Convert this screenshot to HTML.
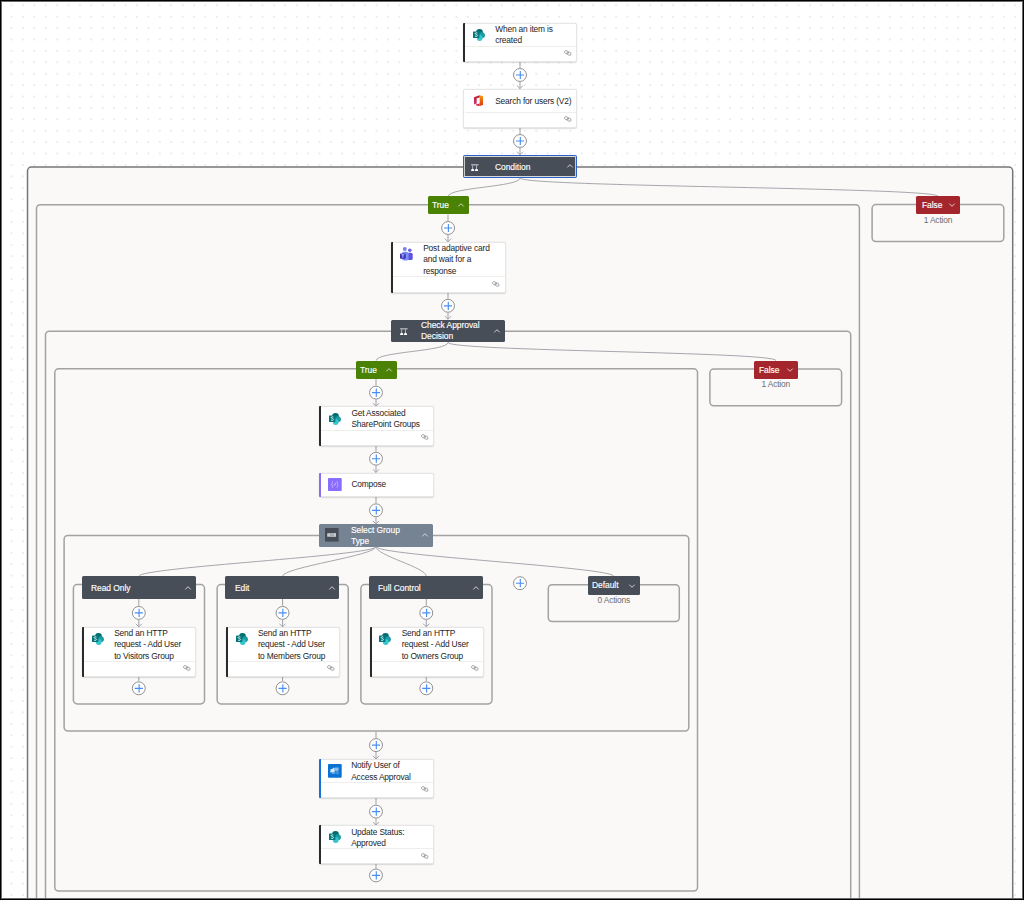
<!DOCTYPE html><html><head><meta charset="utf-8"><style>
*{box-sizing:border-box;margin:0;padding:0}
html,body{width:1024px;height:900px;overflow:hidden;background:#fff}
body{position:relative;font-family:"Liberation Sans", sans-serif;color:#242424}
#bg{position:absolute;left:0;top:0;width:1024px;height:900px;
background-image:radial-gradient(circle at center,#8c8c8c 0,#b0b0b0 0.35px,rgba(255,255,255,0) 0.78px);
background-size:11.42px 11.42px;background-position:-5.6px -0.45px}
.ct{position:absolute;background:#faf9f8;border:1.3px solid #8c8c8c;border-radius:3.5px}
.card{position:absolute;background:#fff;border:1px solid #e6e6e6;border-radius:2px;box-shadow:0 0.6px 1.4px rgba(0,0,0,0.14)}
.bar{position:absolute;left:-1px;top:-1px;bottom:-1px;width:2.2px;border-radius:1px 0 0 1px}
.dv{position:absolute;left:1.2px;right:0;height:1px;background:#efeeec}
.t{position:absolute;font-size:8.4px;letter-spacing:-0.16px;line-height:11.4px;white-space:nowrap;color:#242424}
.hd{position:absolute;border-radius:1.5px;color:#fff}
.ht{position:absolute;font-size:9.2px;font-weight:400;letter-spacing:-0.05px;line-height:11px;white-space:nowrap;color:#fff;-webkit-text-stroke:0.15px #fff;transform:scaleX(0.92);transform-origin:0 0}
.plus{position:absolute;width:14px;height:14px;border-radius:50%;border:1px solid #8e8e8e;background:#fff}
.plus:before{content:'';position:absolute;left:2px;top:5.4px;width:8px;height:1.2px;background:#62a0f4}
.plus:after{content:'';position:absolute;left:5.4px;top:1.9px;width:1.2px;height:8.2px;background:#62a0f4}
.cnt{position:absolute;font-size:8.4px;color:#6c6c6c;letter-spacing:-0.16px;line-height:11.2px;white-space:nowrap;text-align:center}
svg{position:absolute;left:0;top:0;overflow:visible}
#frame{position:absolute;left:0;top:0;width:1024px;height:900px;border:1px solid #000;box-shadow:inset 0 0 0 1px #6a6a6a}
</style></head><body><div id="bg"></div>
<svg width="1024" height="900" viewBox="0 0 1024 900"><rect x="27.5" y="167.1" width="985.20" height="792.90" rx="3.8" fill="#faf9f8" stroke="#777777" stroke-width="1.5"/><rect x="36.5" y="204.7" width="822.90" height="755.30" rx="3.8" fill="#faf9f8" stroke="#a2a2a2" stroke-width="1.5"/><rect x="872.1" y="204.6" width="131.70" height="36.90" rx="3.8" fill="#faf9f8" stroke="#a2a2a2" stroke-width="1.5"/><rect x="45.5" y="331.2" width="805.20" height="628.80" rx="3.8" fill="#faf9f8" stroke="#a2a2a2" stroke-width="1.5"/><rect x="54.8" y="368.8" width="642.70" height="522.20" rx="3.8" fill="#faf9f8" stroke="#a2a2a2" stroke-width="1.5"/><rect x="709.9" y="369.1" width="131.70" height="36.70" rx="3.8" fill="#faf9f8" stroke="#a2a2a2" stroke-width="1.5"/><rect x="64.1" y="535.5" width="624.70" height="195.50" rx="3.8" fill="#faf9f8" stroke="#a2a2a2" stroke-width="1.5"/><rect x="73.4" y="584.6" width="131.10" height="119.30" rx="3.8" fill="#faf9f8" stroke="#a2a2a2" stroke-width="1.5"/><rect x="217.15" y="584.6" width="131.10" height="119.30" rx="3.8" fill="#faf9f8" stroke="#a2a2a2" stroke-width="1.5"/><rect x="360.9" y="584.6" width="131.10" height="119.30" rx="3.8" fill="#faf9f8" stroke="#a2a2a2" stroke-width="1.5"/><rect x="548.3" y="584.7" width="131.00" height="36.90" rx="3.8" fill="#faf9f8" stroke="#a2a2a2" stroke-width="1.5"/></svg>
<svg width="1024" height="900" viewBox="0 0 1024 900"><line x1="520" y1="61" x2="520" y2="68" stroke="#a6a6ad" stroke-width="1.1"/><line x1="520" y1="82" x2="520" y2="88.8" stroke="#a6a6ad" stroke-width="1.1"/><path d="M516.9,85.5 L520,88.6 L523.1,85.5" fill="none" stroke="#a6a6ad" stroke-width="1"/><line x1="520" y1="127.8" x2="520" y2="134" stroke="#a6a6ad" stroke-width="1.1"/><line x1="520" y1="148" x2="520" y2="155" stroke="#a6a6ad" stroke-width="1.1"/><path d="M516.9,151.7 L520,154.8 L523.1,151.7" fill="none" stroke="#a6a6ad" stroke-width="1"/><line x1="448" y1="214.5" x2="448" y2="221" stroke="#a6a6ad" stroke-width="1.1"/><line x1="448" y1="235" x2="448" y2="242" stroke="#a6a6ad" stroke-width="1.1"/><path d="M444.9,238.7 L448,241.8 L451.1,238.7" fill="none" stroke="#a6a6ad" stroke-width="1"/><line x1="448" y1="292" x2="448" y2="298.8" stroke="#a6a6ad" stroke-width="1.1"/><line x1="448" y1="312.8" x2="448" y2="319.4" stroke="#a6a6ad" stroke-width="1.1"/><path d="M444.9,316.09999999999997 L448,319.2 L451.1,316.09999999999997" fill="none" stroke="#a6a6ad" stroke-width="1"/><line x1="376" y1="378.7" x2="376" y2="385.4" stroke="#a6a6ad" stroke-width="1.1"/><line x1="376" y1="399.4" x2="376" y2="406.4" stroke="#a6a6ad" stroke-width="1.1"/><path d="M372.9,403.09999999999997 L376,406.2 L379.1,403.09999999999997" fill="none" stroke="#a6a6ad" stroke-width="1"/><line x1="376" y1="445.5" x2="376" y2="451.6" stroke="#a6a6ad" stroke-width="1.1"/><line x1="376" y1="465.6" x2="376" y2="472.6" stroke="#a6a6ad" stroke-width="1.1"/><path d="M372.9,469.3 L376,472.40000000000003 L379.1,469.3" fill="none" stroke="#a6a6ad" stroke-width="1"/><line x1="376" y1="496.5" x2="376" y2="503.2" stroke="#a6a6ad" stroke-width="1.1"/><line x1="376" y1="517.2" x2="376" y2="524.2" stroke="#a6a6ad" stroke-width="1.1"/><path d="M372.9,520.9000000000001 L376,524.0 L379.1,520.9000000000001" fill="none" stroke="#a6a6ad" stroke-width="1"/><line x1="138.8" y1="599" x2="138.8" y2="605.8" stroke="#a6a6ad" stroke-width="1.1"/><line x1="138.8" y1="619.8" x2="138.8" y2="627" stroke="#a6a6ad" stroke-width="1.1"/><path d="M135.70000000000002,623.7 L138.8,626.8 L141.9,623.7" fill="none" stroke="#a6a6ad" stroke-width="1"/><line x1="138.8" y1="676.5" x2="138.8" y2="681" stroke="#a6a6ad" stroke-width="1.1"/><line x1="282.55" y1="599" x2="282.55" y2="605.8" stroke="#a6a6ad" stroke-width="1.1"/><line x1="282.55" y1="619.8" x2="282.55" y2="627" stroke="#a6a6ad" stroke-width="1.1"/><path d="M279.45,623.7 L282.55,626.8 L285.65000000000003,623.7" fill="none" stroke="#a6a6ad" stroke-width="1"/><line x1="282.55" y1="676.5" x2="282.55" y2="681" stroke="#a6a6ad" stroke-width="1.1"/><line x1="426.3" y1="599" x2="426.3" y2="605.8" stroke="#a6a6ad" stroke-width="1.1"/><line x1="426.3" y1="619.8" x2="426.3" y2="627" stroke="#a6a6ad" stroke-width="1.1"/><path d="M423.2,623.7 L426.3,626.8 L429.40000000000003,623.7" fill="none" stroke="#a6a6ad" stroke-width="1"/><line x1="426.3" y1="676.5" x2="426.3" y2="681" stroke="#a6a6ad" stroke-width="1.1"/><line x1="376" y1="731.4" x2="376" y2="738" stroke="#a6a6ad" stroke-width="1.1"/><line x1="376" y1="752" x2="376" y2="759.2" stroke="#a6a6ad" stroke-width="1.1"/><path d="M372.9,755.9000000000001 L376,759.0 L379.1,755.9000000000001" fill="none" stroke="#a6a6ad" stroke-width="1"/><line x1="376" y1="797.8" x2="376" y2="804.5" stroke="#a6a6ad" stroke-width="1.1"/><line x1="376" y1="818.5" x2="376" y2="825.4" stroke="#a6a6ad" stroke-width="1.1"/><path d="M372.9,822.1 L376,825.1999999999999 L379.1,822.1" fill="none" stroke="#a6a6ad" stroke-width="1"/><line x1="376" y1="863.8" x2="376" y2="868.3" stroke="#a6a6ad" stroke-width="1.1"/><path d="M520,178 C520,187 448.3,187.3 448.3,196.3" fill="none" stroke="#a6a6ad" stroke-width="1"/><path d="M520,178 C520,187 938,187.3 938,196.3" fill="none" stroke="#a6a6ad" stroke-width="1"/><path d="M448,342.4 C448,351.4 376.2,351.6 376.2,360.6" fill="none" stroke="#a6a6ad" stroke-width="1"/><path d="M448,342.4 C448,351.4 776,351.6 776,360.6" fill="none" stroke="#a6a6ad" stroke-width="1"/><path d="M376,546.6 C376,555.6 138.8,567.3 138.8,576.3" fill="none" stroke="#a6a6ad" stroke-width="1"/><path d="M376,546.6 C376,555.6 282.55,567.3 282.55,576.3" fill="none" stroke="#a6a6ad" stroke-width="1"/><path d="M376,546.6 C376,555.6 426.3,567.3 426.3,576.3" fill="none" stroke="#a6a6ad" stroke-width="1"/><path d="M376,546.6 C376,555.6 613.8,567.3 613.8,576.3" fill="none" stroke="#a6a6ad" stroke-width="1"/></svg>
<svg width="1024" height="900" viewBox="0 0 1024 900"><circle cx="520" cy="75" r="6.45" fill="#fff" stroke="#909090" stroke-width="1"/><path d="M515.9,75 H524.1 M520.3,70.9 V79.1" stroke="#4a8ef4" stroke-width="1.15"/><circle cx="520" cy="141" r="6.45" fill="#fff" stroke="#909090" stroke-width="1"/><path d="M515.9,141 H524.1 M520.3,136.9 V145.1" stroke="#4a8ef4" stroke-width="1.15"/><circle cx="448.1" cy="228" r="6.45" fill="#fff" stroke="#909090" stroke-width="1"/><path d="M444.0,228 H452.20000000000005 M448.40000000000003,223.9 V232.1" stroke="#4a8ef4" stroke-width="1.15"/><circle cx="448" cy="305.8" r="6.45" fill="#fff" stroke="#909090" stroke-width="1"/><path d="M443.9,305.8 H452.1 M448.3,301.7 V309.90000000000003" stroke="#4a8ef4" stroke-width="1.15"/><circle cx="376" cy="392.6" r="6.45" fill="#fff" stroke="#909090" stroke-width="1"/><path d="M371.9,392.6 H380.1 M376.3,388.5 V396.70000000000005" stroke="#4a8ef4" stroke-width="1.15"/><circle cx="376" cy="458.7" r="6.45" fill="#fff" stroke="#909090" stroke-width="1"/><path d="M371.9,458.7 H380.1 M376.3,454.59999999999997 V462.8" stroke="#4a8ef4" stroke-width="1.15"/><circle cx="376" cy="510.3" r="6.45" fill="#fff" stroke="#909090" stroke-width="1"/><path d="M371.9,510.3 H380.1 M376.3,506.2 V514.4" stroke="#4a8ef4" stroke-width="1.15"/><circle cx="376" cy="745.1" r="6.45" fill="#fff" stroke="#909090" stroke-width="1"/><path d="M371.9,745.1 H380.1 M376.3,741.0 V749.2" stroke="#4a8ef4" stroke-width="1.15"/><circle cx="376" cy="811.6" r="6.45" fill="#fff" stroke="#909090" stroke-width="1"/><path d="M371.9,811.6 H380.1 M376.3,807.5 V815.7" stroke="#4a8ef4" stroke-width="1.15"/><circle cx="376" cy="875.4" r="6.45" fill="#fff" stroke="#909090" stroke-width="1"/><path d="M371.9,875.4 H380.1 M376.3,871.3 V879.5" stroke="#4a8ef4" stroke-width="1.15"/><circle cx="520" cy="583.2" r="6.45" fill="#fff" stroke="#909090" stroke-width="1"/><path d="M515.9,583.2 H524.1 M520.3,579.1 V587.3000000000001" stroke="#4a8ef4" stroke-width="1.15"/><circle cx="138.8" cy="612.9" r="6.45" fill="#fff" stroke="#909090" stroke-width="1"/><path d="M134.70000000000002,612.9 H142.9 M139.10000000000002,608.8 V617.0" stroke="#4a8ef4" stroke-width="1.15"/><circle cx="138.8" cy="688.3" r="6.45" fill="#fff" stroke="#909090" stroke-width="1"/><path d="M134.70000000000002,688.3 H142.9 M139.10000000000002,684.1999999999999 V692.4" stroke="#4a8ef4" stroke-width="1.15"/><circle cx="282.55" cy="612.9" r="6.45" fill="#fff" stroke="#909090" stroke-width="1"/><path d="M278.45,612.9 H286.65000000000003 M282.85,608.8 V617.0" stroke="#4a8ef4" stroke-width="1.15"/><circle cx="282.55" cy="688.3" r="6.45" fill="#fff" stroke="#909090" stroke-width="1"/><path d="M278.45,688.3 H286.65000000000003 M282.85,684.1999999999999 V692.4" stroke="#4a8ef4" stroke-width="1.15"/><circle cx="426.3" cy="612.9" r="6.45" fill="#fff" stroke="#909090" stroke-width="1"/><path d="M422.2,612.9 H430.40000000000003 M426.6,608.8 V617.0" stroke="#4a8ef4" stroke-width="1.15"/><circle cx="426.3" cy="688.3" r="6.45" fill="#fff" stroke="#909090" stroke-width="1"/><path d="M422.2,688.3 H430.40000000000003 M426.6,684.1999999999999 V692.4" stroke="#4a8ef4" stroke-width="1.15"/></svg>
<div class="card" style="left:463px;top:23.2px;width:114.1px;height:38.4px"><div class="bar" style="background:#2a2a2a"></div><svg style="left:9px;top:4.6px" width="12" height="12" viewBox="0 0 12 12"><circle cx="6.5" cy="3.5" r="3.4" fill="#036c70"/><circle cx="8.9" cy="6.3" r="3.0" fill="#1a9ba1"/><circle cx="6.7" cy="9" r="2.9" fill="#37c6d0"/><rect x="0" y="2.6" width="6.4" height="6.4" rx="0.6" fill="#03787c"/><path d="M4.4,4.1 C3.9,3.6 2.1,3.7 2.2,4.7 C2.3,5.6 4.4,5.3 4.4,6.6 C4.4,7.6 2.5,7.6 2,7" fill="none" stroke="#ffffff" stroke-width="0.95" opacity="0.9"/></svg><div class="t" style="left:31.2px;top:-0.11px">When an item is<br>created</div><div class="dv" style="top:22.2px"></div><svg style="left:100px;top:25.7px" width="8" height="6" viewBox="0 0 8 6"><ellipse cx="2.5" cy="2.3" rx="2.1" ry="1.45" transform="rotate(28 2.5 2.3)" fill="none" stroke="#8f8f94" stroke-width="0.75"/><ellipse cx="5.1" cy="3.6" rx="2.1" ry="1.45" transform="rotate(28 5.1 3.6)" fill="none" stroke="#8f8f94" stroke-width="0.75"/></svg></div>
<div class="card" style="left:463px;top:89.2px;width:114.3px;height:39px"><svg style="left:10.1px;top:4.8px" width="9" height="11" viewBox="0 0 9 11"><defs><linearGradient id="og" x1="0" y1="0" x2="0" y2="1"><stop offset="0" stop-color="#f5a00a"/><stop offset="0.6" stop-color="#e8560f"/><stop offset="1" stop-color="#d8400c"/></linearGradient><linearGradient id="lg" x1="0" y1="0" x2="0" y2="1"><stop offset="0" stop-color="#c4171f"/><stop offset="1" stop-color="#c93a7a"/></linearGradient></defs><path d="M5.7,0.2 L9,1.2 L9,9.9 L5.7,11 Z" fill="url(#og)"/><path d="M0,2.2 L5.7,0.2 L5.7,2.6 L2.7,3.3 L2.7,8.6 L0,9.4 Z" fill="url(#lg)"/><path d="M2.1,9.3 L5.7,8.6 L5.7,11 L3.2,10.8 Q2.1,10.5 2.1,9.9 Z" fill="#e0294a"/></svg><div class="t" style="left:31.2px;top:6.09px">Search for users (V2)</div><div class="dv" style="top:22.1px"></div><svg style="left:100.2px;top:26.3px" width="8" height="6" viewBox="0 0 8 6"><ellipse cx="2.5" cy="2.3" rx="2.1" ry="1.45" transform="rotate(28 2.5 2.3)" fill="none" stroke="#8f8f94" stroke-width="0.75"/><ellipse cx="5.1" cy="3.6" rx="2.1" ry="1.45" transform="rotate(28 5.1 3.6)" fill="none" stroke="#8f8f94" stroke-width="0.75"/></svg></div>
<div class="card" style="left:391px;top:242.2px;width:114.5px;height:50.4px"><div class="bar" style="background:#2a2a2a"></div><svg style="left:8.2px;top:3.8px" width="13" height="14" viewBox="0 0 13 14"><circle cx="4.8" cy="2.1" r="2.0" fill="#7b83eb"/><circle cx="9.8" cy="3.2" r="1.8" fill="#6a63e0"/><rect x="7.4" y="5.8" width="5.3" height="7.2" rx="1.6" fill="#6152e0"/><rect x="2" y="4.8" width="6.6" height="8.8" rx="2" fill="#7a92f8"/><rect x="0" y="6.6" width="5.7" height="5.2" rx="0.7" fill="#3a33b5"/><path d="M1.4,7.8 H4.3 M2.85,7.8 V10.8" stroke="#c9c6f5" stroke-width="0.9" fill="none"/></svg><div class="t" style="left:31.2px;top:-0.41px">Post adaptive card<br>and wait for a<br>response</div><div class="dv" style="top:33.2px"></div><svg style="left:100.4px;top:37.7px" width="8" height="6" viewBox="0 0 8 6"><ellipse cx="2.5" cy="2.3" rx="2.1" ry="1.45" transform="rotate(28 2.5 2.3)" fill="none" stroke="#8f8f94" stroke-width="0.75"/><ellipse cx="5.1" cy="3.6" rx="2.1" ry="1.45" transform="rotate(28 5.1 3.6)" fill="none" stroke="#8f8f94" stroke-width="0.75"/></svg></div>
<div class="card" style="left:319.2px;top:406.4px;width:114.5px;height:39.6px"><div class="bar" style="background:#2a2a2a"></div><svg style="left:9.2px;top:5.2px" width="12" height="12" viewBox="0 0 12 12"><circle cx="6.5" cy="3.5" r="3.4" fill="#036c70"/><circle cx="8.9" cy="6.3" r="3.0" fill="#1a9ba1"/><circle cx="6.7" cy="9" r="2.9" fill="#37c6d0"/><rect x="0" y="2.6" width="6.4" height="6.4" rx="0.6" fill="#03787c"/><path d="M4.4,4.1 C3.9,3.6 2.1,3.7 2.2,4.7 C2.3,5.6 4.4,5.3 4.4,6.6 C4.4,7.6 2.5,7.6 2,7" fill="none" stroke="#ffffff" stroke-width="0.95" opacity="0.9"/></svg><div class="t" style="left:31.2px;top:0.39px">Get Associated<br>SharePoint Groups</div><div class="dv" style="top:22.3px"></div><svg style="left:100.4px;top:26.9px" width="8" height="6" viewBox="0 0 8 6"><ellipse cx="2.5" cy="2.3" rx="2.1" ry="1.45" transform="rotate(28 2.5 2.3)" fill="none" stroke="#8f8f94" stroke-width="0.75"/><ellipse cx="5.1" cy="3.6" rx="2.1" ry="1.45" transform="rotate(28 5.1 3.6)" fill="none" stroke="#8f8f94" stroke-width="0.75"/></svg></div>
<div class="card" style="left:319.2px;top:472.6px;width:114.5px;height:24.4px"><div class="bar" style="background:#8b6cf5"></div><svg style="left:8px;top:4.2px" width="14" height="13" viewBox="0 0 14 13"><rect x="0" y="0" width="13.7" height="13.1" rx="0.8" fill="#8a6cff"/><path d="M5.1,3.3 C4.1,3.3 4.3,4.3 4.3,5.2 C4.3,6 4,6.5 3.4,6.5 C4,6.5 4.3,7 4.3,7.8 C4.3,8.7 4.1,9.6 5.1,9.6" fill="none" stroke="#c9b8ff" stroke-width="0.8"/><path d="M8.6,3.3 C9.6,3.3 9.4,4.3 9.4,5.2 C9.4,6 9.7,6.5 10.3,6.5 C9.7,6.5 9.4,7 9.4,7.8 C9.4,8.7 9.6,9.6 8.6,9.6" fill="none" stroke="#c9b8ff" stroke-width="0.8"/><path d="M6,7.9 L7.9,4.9" stroke="#d8ccff" stroke-width="0.9"/></svg><div class="t" style="left:31.2px;top:5.79px">Compose</div></div>
<div class="card" style="left:82px;top:627px;width:114.1px;height:50.1px"><div class="bar" style="background:#2a2a2a"></div><svg style="left:8.9px;top:4.7px" width="12" height="12" viewBox="0 0 12 12"><circle cx="6.5" cy="3.5" r="3.4" fill="#036c70"/><circle cx="8.9" cy="6.3" r="3.0" fill="#1a9ba1"/><circle cx="6.7" cy="9" r="2.9" fill="#37c6d0"/><rect x="0" y="2.6" width="6.4" height="6.4" rx="0.6" fill="#03787c"/><path d="M4.4,4.1 C3.9,3.6 2.1,3.7 2.2,4.7 C2.3,5.6 4.4,5.3 4.4,6.6 C4.4,7.6 2.5,7.6 2,7" fill="none" stroke="#ffffff" stroke-width="0.95" opacity="0.9"/></svg><div class="t" style="left:31.2px;top:0.09px">Send an HTTP<br>request - Add User<br>to Visitors Group</div><div class="dv" style="top:33px"></div><svg style="left:100px;top:37.4px" width="8" height="6" viewBox="0 0 8 6"><ellipse cx="2.5" cy="2.3" rx="2.1" ry="1.45" transform="rotate(28 2.5 2.3)" fill="none" stroke="#8f8f94" stroke-width="0.75"/><ellipse cx="5.1" cy="3.6" rx="2.1" ry="1.45" transform="rotate(28 5.1 3.6)" fill="none" stroke="#8f8f94" stroke-width="0.75"/></svg></div>
<div class="card" style="left:225.75px;top:627px;width:114.1px;height:50.1px"><div class="bar" style="background:#2a2a2a"></div><svg style="left:8.9px;top:4.7px" width="12" height="12" viewBox="0 0 12 12"><circle cx="6.5" cy="3.5" r="3.4" fill="#036c70"/><circle cx="8.9" cy="6.3" r="3.0" fill="#1a9ba1"/><circle cx="6.7" cy="9" r="2.9" fill="#37c6d0"/><rect x="0" y="2.6" width="6.4" height="6.4" rx="0.6" fill="#03787c"/><path d="M4.4,4.1 C3.9,3.6 2.1,3.7 2.2,4.7 C2.3,5.6 4.4,5.3 4.4,6.6 C4.4,7.6 2.5,7.6 2,7" fill="none" stroke="#ffffff" stroke-width="0.95" opacity="0.9"/></svg><div class="t" style="left:31.2px;top:0.09px">Send an HTTP<br>request - Add User<br>to Members Group</div><div class="dv" style="top:33px"></div><svg style="left:100px;top:37.4px" width="8" height="6" viewBox="0 0 8 6"><ellipse cx="2.5" cy="2.3" rx="2.1" ry="1.45" transform="rotate(28 2.5 2.3)" fill="none" stroke="#8f8f94" stroke-width="0.75"/><ellipse cx="5.1" cy="3.6" rx="2.1" ry="1.45" transform="rotate(28 5.1 3.6)" fill="none" stroke="#8f8f94" stroke-width="0.75"/></svg></div>
<div class="card" style="left:369.5px;top:627px;width:114.1px;height:50.1px"><div class="bar" style="background:#2a2a2a"></div><svg style="left:8.9px;top:4.7px" width="12" height="12" viewBox="0 0 12 12"><circle cx="6.5" cy="3.5" r="3.4" fill="#036c70"/><circle cx="8.9" cy="6.3" r="3.0" fill="#1a9ba1"/><circle cx="6.7" cy="9" r="2.9" fill="#37c6d0"/><rect x="0" y="2.6" width="6.4" height="6.4" rx="0.6" fill="#03787c"/><path d="M4.4,4.1 C3.9,3.6 2.1,3.7 2.2,4.7 C2.3,5.6 4.4,5.3 4.4,6.6 C4.4,7.6 2.5,7.6 2,7" fill="none" stroke="#ffffff" stroke-width="0.95" opacity="0.9"/></svg><div class="t" style="left:31.2px;top:0.09px">Send an HTTP<br>request - Add User<br>to Owners Group</div><div class="dv" style="top:33px"></div><svg style="left:100px;top:37.4px" width="8" height="6" viewBox="0 0 8 6"><ellipse cx="2.5" cy="2.3" rx="2.1" ry="1.45" transform="rotate(28 2.5 2.3)" fill="none" stroke="#8f8f94" stroke-width="0.75"/><ellipse cx="5.1" cy="3.6" rx="2.1" ry="1.45" transform="rotate(28 5.1 3.6)" fill="none" stroke="#8f8f94" stroke-width="0.75"/></svg></div>
<div class="card" style="left:319px;top:759.2px;width:114.9px;height:39px"><div class="bar" style="background:#1772d8"></div><svg style="left:8.2px;top:3.9px" width="14" height="14" viewBox="0 0 14 14"><rect x="0" y="0" width="13.7" height="13.7" rx="0.9" fill="#0a72d2"/><path d="M2.4,5.2 L4.3,5 L5.4,3.4 L6.7,4.4 L6.7,8.6 L2.4,8.6 Z" fill="#d8e9f8"/><path d="M7,3.6 L10.6,3.6 L10.6,6.6 L8.6,6.9 L7,6.6 Z" fill="#8cc0ec"/><path d="M7.4,7.1 L10.8,7.2 L11,9.6 L9.6,10.6 L7.4,9.6 Z" fill="#3d95de"/><path d="M3.6,9.1 L7.2,9.1 L7.2,10.1 L3.8,10.1 Z" fill="#5aa6e4"/></svg><div class="t" style="left:31.2px;top:0.19px">Notify User of<br>Access Approval</div><div class="dv" style="top:21.8px"></div><svg style="left:100.8px;top:26.3px" width="8" height="6" viewBox="0 0 8 6"><ellipse cx="2.5" cy="2.3" rx="2.1" ry="1.45" transform="rotate(28 2.5 2.3)" fill="none" stroke="#8f8f94" stroke-width="0.75"/><ellipse cx="5.1" cy="3.6" rx="2.1" ry="1.45" transform="rotate(28 5.1 3.6)" fill="none" stroke="#8f8f94" stroke-width="0.75"/></svg></div>
<div class="card" style="left:319px;top:825.4px;width:114.9px;height:39px"><div class="bar" style="background:#2a2a2a"></div><svg style="left:9.2px;top:5px" width="12" height="12" viewBox="0 0 12 12"><circle cx="6.5" cy="3.5" r="3.4" fill="#036c70"/><circle cx="8.9" cy="6.3" r="3.0" fill="#1a9ba1"/><circle cx="6.7" cy="9" r="2.9" fill="#37c6d0"/><rect x="0" y="2.6" width="6.4" height="6.4" rx="0.6" fill="#03787c"/><path d="M4.4,4.1 C3.9,3.6 2.1,3.7 2.2,4.7 C2.3,5.6 4.4,5.3 4.4,6.6 C4.4,7.6 2.5,7.6 2,7" fill="none" stroke="#ffffff" stroke-width="0.95" opacity="0.9"/></svg><div class="t" style="left:31.2px;top:0.19px">Update Status:<br>Approved</div><div class="dv" style="top:21.7px"></div><svg style="left:100.8px;top:26.3px" width="8" height="6" viewBox="0 0 8 6"><ellipse cx="2.5" cy="2.3" rx="2.1" ry="1.45" transform="rotate(28 2.5 2.3)" fill="none" stroke="#8f8f94" stroke-width="0.75"/><ellipse cx="5.1" cy="3.6" rx="2.1" ry="1.45" transform="rotate(28 5.1 3.6)" fill="none" stroke="#8f8f94" stroke-width="0.75"/></svg></div>
<div class="hd" style="left:463px;top:155px;width:114px;height:22.8px;background:#484e58;border:1.4px solid #2b62c7;box-shadow:inset 0 0 0 0.9px #d9d9d9"><svg style="left:7.1px;top:7.6px" width="8" height="7.5" viewBox="0 0 8 7.5"><rect x="0" y="0.1" width="7.7" height="1.3" rx="0.4" fill="#a4a8ae"/><path d="M1.65,1.3 V5 M5.5,1.3 V5" stroke="#c4c7cc" stroke-width="0.8"/><path d="M0,7 Q0.1,4.8 1.65,4.8 Q3.2,4.8 3.3,7 Z M3.85,7 Q3.95,4.8 5.5,4.8 Q7.05,4.8 7.15,7 Z" fill="#ffffff"/></svg><div class="ht" style="left:30.6px;top:5.71px">Condition</div><svg style="left:102.6px;top:8px" width="6" height="4" viewBox="0 0 6 4"><path d="M0.3,3.4 L3,0.7 L5.7,3.4" fill="none" stroke="#e6e6e6" stroke-width="0.85"/></svg></div>
<div class="hd" style="left:427.6px;top:196.2px;width:41px;height:18.3px;background:#498205;"><div class="ht" style="left:4.9px;top:4.31px">True</div><svg style="left:30px;top:7.15px" width="6" height="4" viewBox="0 0 6 4"><path d="M0.3,3.4 L3,0.7 L5.7,3.4" fill="none" stroke="#e6e6e6" stroke-width="0.85"/></svg></div>
<div class="hd" style="left:916.3px;top:196.2px;width:43.3px;height:18.2px;background:#a4262c;"><div class="ht" style="left:5.3px;top:4.31px">False</div><svg style="left:32.3px;top:7.1px" width="6" height="4" viewBox="0 0 6 4"><path d="M0.3,0.6 L3,3.3 L5.7,0.6" fill="none" stroke="#e6e6e6" stroke-width="0.85"/></svg></div>
<div class="hd" style="left:391px;top:319.5px;width:114px;height:22.9px;background:#484e58;"><svg style="left:8.9px;top:8.4px" width="8" height="7.5" viewBox="0 0 8 7.5"><rect x="0" y="0.1" width="7.7" height="1.3" rx="0.4" fill="#a4a8ae"/><path d="M1.65,1.3 V5 M5.5,1.3 V5" stroke="#c4c7cc" stroke-width="0.8"/><path d="M0,7 Q0.1,4.8 1.65,4.8 Q3.2,4.8 3.3,7 Z M3.85,7 Q3.95,4.8 5.5,4.8 Q7.05,4.8 7.15,7 Z" fill="#ffffff"/></svg><div class="ht" style="left:30px;top:0.01px">Check Approval<br>Decision</div><svg style="left:103.3px;top:9.5px" width="6" height="4" viewBox="0 0 6 4"><path d="M0.3,3.4 L3,0.7 L5.7,3.4" fill="none" stroke="#e6e6e6" stroke-width="0.85"/></svg></div>
<div class="hd" style="left:355.5px;top:360.6px;width:41.5px;height:18.1px;background:#498205;"><div class="ht" style="left:4.9px;top:4.31px">True</div><svg style="left:30.5px;top:7.05px" width="6" height="4" viewBox="0 0 6 4"><path d="M0.3,3.4 L3,0.7 L5.7,3.4" fill="none" stroke="#e6e6e6" stroke-width="0.85"/></svg></div>
<div class="hd" style="left:754.1px;top:360.5px;width:43.5px;height:18.5px;background:#a4262c;"><div class="ht" style="left:5.3px;top:4.31px">False</div><svg style="left:32.5px;top:7.25px" width="6" height="4" viewBox="0 0 6 4"><path d="M0.3,0.6 L3,3.3 L5.7,0.6" fill="none" stroke="#e6e6e6" stroke-width="0.85"/></svg></div>
<div class="hd" style="left:319.2px;top:524.2px;width:114.1px;height:22.4px;background:#768392;"><svg style="left:5.9px;top:4.1px" width="14" height="14" viewBox="0 0 14 14"><rect x="0" y="0" width="13.6" height="13.6" fill="#474d56"/><rect x="2" y="4.9" width="8.9" height="4" rx="1" fill="#a9adb3"/><rect x="9.3" y="5.1" width="1.4" height="3.6" fill="#d5d7da"/><circle cx="3.8" cy="6.9" r="1.2" fill="#c8cbcf"/></svg><div class="ht" style="left:31.5px;top:0.81px">Select Group<br>Type</div><svg style="left:103.1px;top:9.2px" width="6" height="4" viewBox="0 0 6 4"><path d="M0.3,3.4 L3,0.7 L5.7,3.4" fill="none" stroke="#e6e6e6" stroke-width="0.85"/></svg></div>
<div class="hd" style="left:81.7px;top:576.3px;width:114px;height:22.6px;background:#484e58;"><div class="ht" style="left:9.3px;top:6.71px">Read Only</div><svg style="left:103.5px;top:10px" width="6" height="4" viewBox="0 0 6 4"><path d="M0.3,3.4 L3,0.7 L5.7,3.4" fill="none" stroke="#e6e6e6" stroke-width="0.85"/></svg></div>
<div class="hd" style="left:225.45px;top:576.3px;width:114px;height:22.6px;background:#484e58;"><div class="ht" style="left:9.3px;top:6.71px">Edit</div><svg style="left:103.5px;top:10px" width="6" height="4" viewBox="0 0 6 4"><path d="M0.3,3.4 L3,0.7 L5.7,3.4" fill="none" stroke="#e6e6e6" stroke-width="0.85"/></svg></div>
<div class="hd" style="left:369.2px;top:576.3px;width:114px;height:22.6px;background:#484e58;"><div class="ht" style="left:9.3px;top:6.71px">Full Control</div><svg style="left:103.5px;top:10px" width="6" height="4" viewBox="0 0 6 4"><path d="M0.3,3.4 L3,0.7 L5.7,3.4" fill="none" stroke="#e6e6e6" stroke-width="0.85"/></svg></div>
<div class="hd" style="left:587.9px;top:576.2px;width:51.7px;height:18.8px;background:#484e58;"><div class="ht" style="left:4.6px;top:3.41px">Default</div><svg style="left:40.7px;top:7.4px" width="6" height="4" viewBox="0 0 6 4"><path d="M0.3,0.6 L3,3.3 L5.7,0.6" fill="none" stroke="#e6e6e6" stroke-width="0.85"/></svg></div>
<div class="cnt" style="left:872px;width:132px;top:214.69px">1 Action</div>
<div class="cnt" style="left:709.8px;width:132px;top:378.99px">1 Action</div>
<div class="cnt" style="left:548px;width:131.6px;top:594.89px">0 Actions</div>
<div id="frame"></div>
</body></html>
